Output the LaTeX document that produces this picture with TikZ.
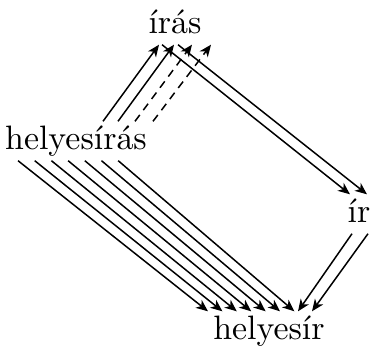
\documentclass[tikz,border=0pt]{standalone}
\usepackage{fontspec}
\setmainfont{lmroman10-regular.otf}
\usepackage{tikz}
\usetikzlibrary{arrows.meta,positioning}

\tikzset{
  word/.style={font=\fontsize{34}{40}\selectfont, text height=25bp, text depth=8bp, inner sep=3pt},
  arr/.style={line width=1.5pt, -{Stealth[length=12pt,width=10pt,inset=3.5pt]}},
  dasharr/.style={arr, dash pattern=on 8pt off 6pt}
}

\begin{document}
\begin{tikzpicture}[x=1bp, y=1bp, node distance=1cm, on grid]
\useasboundingbox (0,0) rectangle (371,-349);
\node[word] (helyesiras) at (76,-141) {helyesírás};
\node[word, above right=116bp and 99bp of helyesiras] (iras) {írás};
\node[word, below right=189bp and 184bp of iras] (ir) {ír};
\node[word, below right=190bp and 193bp of helyesiras] (helyesir) {helyesír};

% helyesiras -> iras
\draw[arr] ([xshift=27bp]helyesiras.north) -- ([xshift=-16bp]iras.south);
\draw[arr] ([xshift=42bp]helyesiras.north) -- ([xshift=-1bp]iras.south);
\draw[dasharr] ([xshift=59bp]helyesiras.north) -- ([xshift=17bp]iras.south);
\draw[dasharr] ([xshift=77bp]helyesiras.north) -- ([xshift=36bp]iras.south);

% iras -> ir
\draw[arr] ([xshift=-13bp]iras.south) -- ([xshift=-9bp]ir.north);
\draw[arr] ([xshift=3bp]iras.south) -- ([xshift=8bp]ir.north);

% ir -> helyesir
\draw[arr] ([xshift=-7bp]ir.south) -- ([xshift=29bp]helyesir.north);
\draw[arr] ([xshift=9bp]ir.south) -- ([xshift=43bp]helyesir.north);

% helyesiras -> helyesir
\foreach \i in {0,...,6}
  \draw[arr] ([xshift=-58bp+16.7bp*\i]helyesiras.south) -- ([xshift=-61bp+14.4bp*\i]helyesir.north);
\end{tikzpicture}
\end{document}
